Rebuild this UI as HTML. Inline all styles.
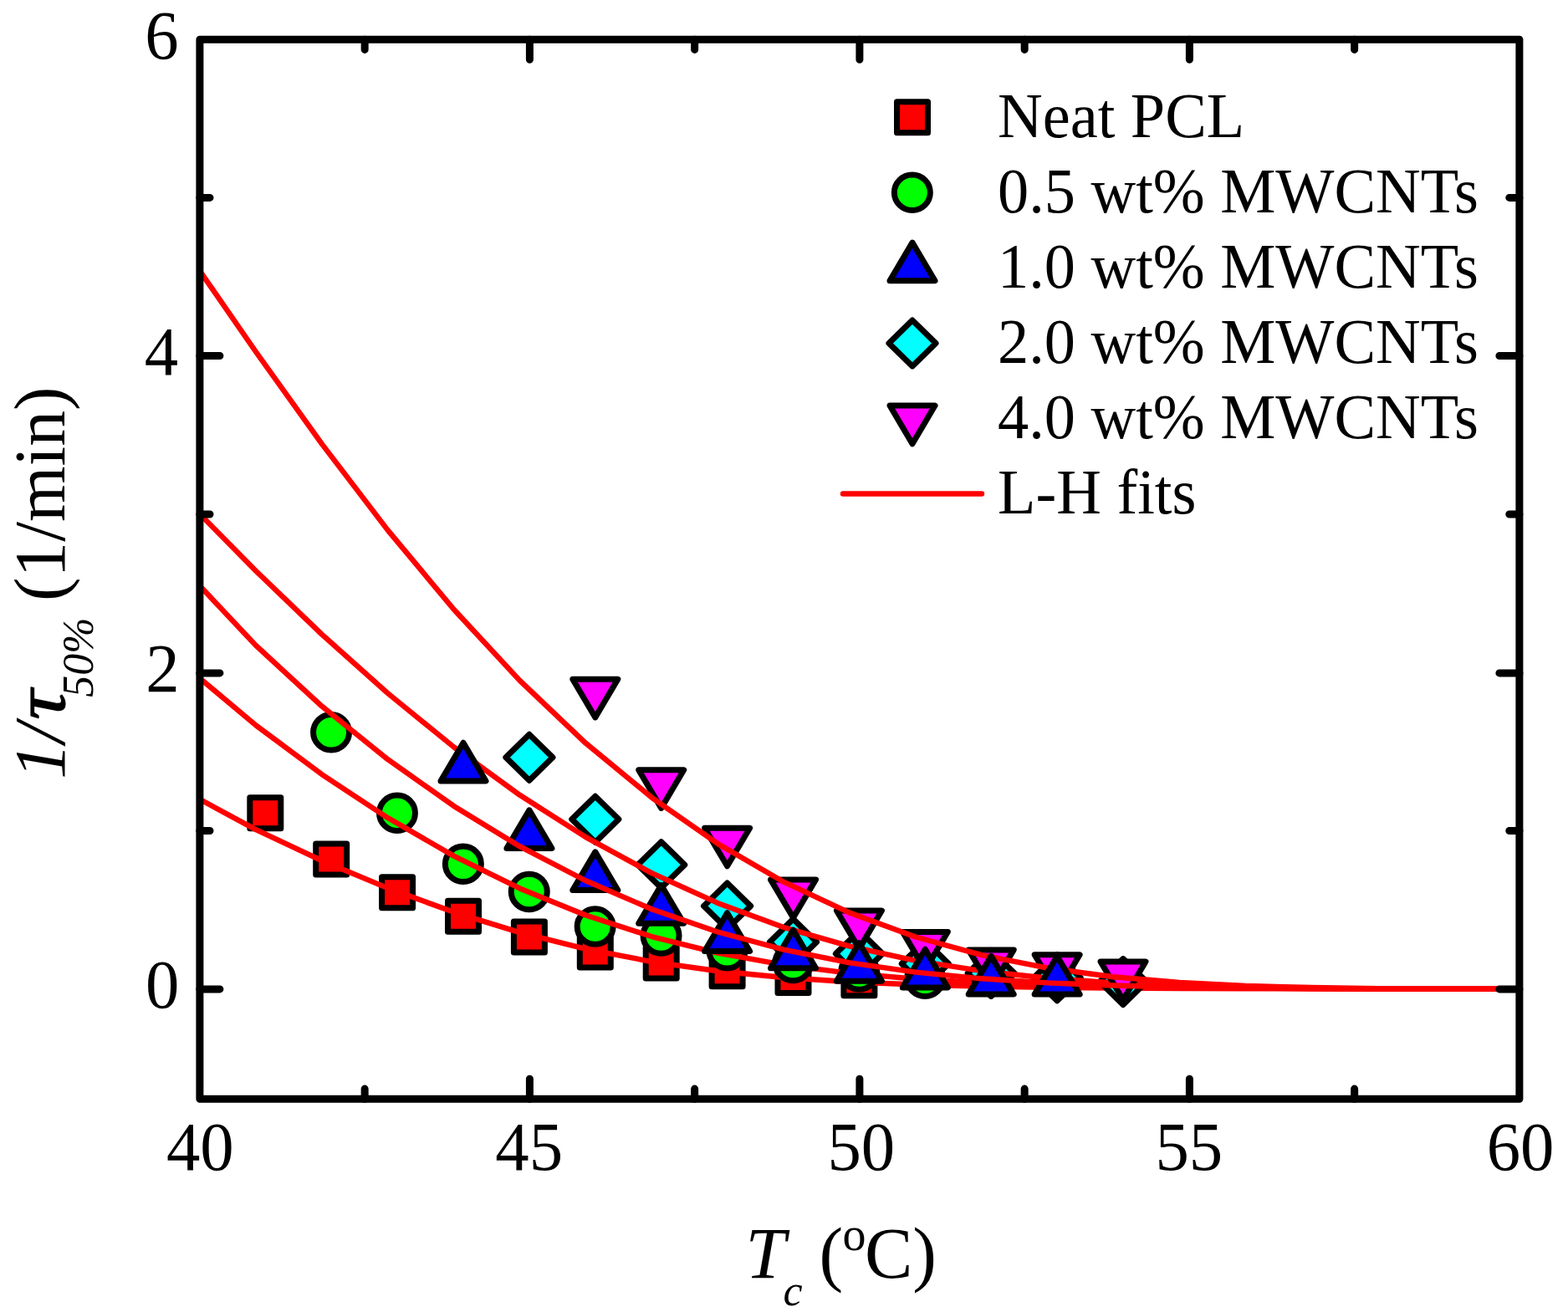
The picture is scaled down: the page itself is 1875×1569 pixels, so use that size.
<!DOCTYPE html>
<html lang="en">
<head>
<meta charset="utf-8">
<title>1/τ50% vs Tc — L-H fits</title>
<style>
html,body{margin:0;padding:0;background:#fff;}
body{width:1875px;height:1569px;overflow:hidden;}
svg{display:block;}
text{font-family:'Liberation Serif', 'Times New Roman', Times, serif;fill:#000;}
</style>
</head>
<body>
<svg width="1875" height="1569" viewBox="0 0 1875 1569">
<rect width="1875" height="1569" fill="#ffffff"/>
<defs><clipPath id="plot"><rect x="238.9" y="47.3" width="1578.0" height="1266.9"/></clipPath></defs>
<g clip-path="url(#plot)">
<g stroke="#000" stroke-width="7.0" stroke-linejoin="round">
<rect x="298.8" y="953.8" width="37" height="37" fill="#ff0000"/>
<rect x="377.7" y="1008.9" width="37" height="37" fill="#ff0000"/>
<rect x="456.6" y="1048.8" width="37" height="37" fill="#ff0000"/>
<rect x="535.5" y="1077.3" width="37" height="37" fill="#ff0000"/>
<rect x="614.4" y="1102" width="37" height="37" fill="#ff0000"/>
<rect x="693.3" y="1120.1" width="37" height="37" fill="#ff0000"/>
<rect x="772.2" y="1132.9" width="37" height="37" fill="#ff0000"/>
<rect x="851.1" y="1142.7" width="37" height="37" fill="#ff0000"/>
<rect x="930" y="1150.4" width="37" height="37" fill="#ff0000"/>
<rect x="1008.9" y="1153.7" width="37" height="37" fill="#ff0000"/>
</g>
<polyline points="227.07,949.59 305.97,992.07 384.87,1029.23 463.77,1062.13 542.67,1090.85 621.57,1115.16 700.47,1134.86 779.37,1150.06 858.27,1161.22 937.17,1169 1016.07,1174.2 1094.97,1177.53 1173.87,1179.59 1252.77,1180.84 1331.67,1181.59 1410.57,1182.02 1489.47,1182.28 1568.37,1182.42 1647.27,1182.48 1726.17,1182.48 1805.07,1182.41" fill="none" stroke="#ff0000" stroke-width="6.4" stroke-linejoin="round" stroke-linecap="butt"/>
<g stroke="#000" stroke-width="7.0" stroke-linejoin="round">
<ellipse cx="396.05" cy="875.7" rx="21.5" ry="21.25" fill="#00ff00"/>
<ellipse cx="474.95" cy="972.3" rx="21.5" ry="21.25" fill="#00ff00"/>
<ellipse cx="553.85" cy="1033.2" rx="21.5" ry="21.25" fill="#00ff00"/>
<ellipse cx="632.75" cy="1066.4" rx="21.5" ry="21.25" fill="#00ff00"/>
<ellipse cx="711.65" cy="1108" rx="21.5" ry="21.25" fill="#00ff00"/>
<ellipse cx="790.55" cy="1119" rx="21.5" ry="21.25" fill="#00ff00"/>
<ellipse cx="869.45" cy="1136.8" rx="21.5" ry="21.25" fill="#00ff00"/>
<ellipse cx="948.35" cy="1151.4" rx="21.5" ry="21.25" fill="#00ff00"/>
<ellipse cx="1027.25" cy="1162" rx="21.5" ry="21.25" fill="#00ff00"/>
<ellipse cx="1106.15" cy="1170.2" rx="21.5" ry="21.25" fill="#00ff00"/>
</g>
<polyline points="227.07,801.19 305.97,867.4 384.87,926.05 463.77,978.08 542.67,1023.62 621.57,1062.48 700.47,1094.56 779.37,1120.06 858.27,1139.53 937.17,1153.81 1016.07,1163.88 1094.97,1170.73 1173.87,1175.23 1252.77,1178.11 1331.67,1179.92 1410.57,1181.03 1489.47,1181.7 1568.37,1182.11 1647.27,1182.36 1726.17,1182.5 1805.07,1182.59" fill="none" stroke="#ff0000" stroke-width="6.4" stroke-linejoin="round" stroke-linecap="butt"/>
<g stroke="#000" stroke-width="7.0" stroke-linejoin="round">
<polygon points="632.9,878.3 660.95,905.8 632.9,933.3 604.85,905.8" fill="#00ffff"/>
<polygon points="711.8,952.3 739.85,979.8 711.8,1007.3 683.75,979.8" fill="#00ffff"/>
<polygon points="790.7,1006.7 818.75,1034.2 790.7,1061.7 762.65,1034.2" fill="#00ffff"/>
<polygon points="869.6,1055.9 897.65,1083.4 869.6,1110.9 841.55,1083.4" fill="#00ffff"/>
<polygon points="948.5,1099 976.55,1126.5 948.5,1154 920.45,1126.5" fill="#00ffff"/>
<polygon points="1027.4,1113.1 1055.45,1140.6 1027.4,1168.1 999.35,1140.6" fill="#00ffff"/>
<polygon points="1106.3,1124.9 1134.35,1152.4 1106.3,1179.9 1078.25,1152.4" fill="#00ffff"/>
<polygon points="1185.2,1136.4 1213.25,1163.9 1185.2,1191.4 1157.15,1163.9" fill="#00ffff"/>
<polygon points="1264.1,1141.8 1292.15,1169.3 1264.1,1196.8 1236.05,1169.3" fill="#00ffff"/>
<polygon points="1343,1146.6 1371.05,1174.1 1343,1201.6 1314.95,1174.1" fill="#00ffff"/>
</g>
<polyline points="227.07,602.7 305.97,682.77 384.87,758.63 463.77,829.11 542.67,893.37 621.57,950.82 700.47,1001.11 779.37,1044.12 858.27,1079.96 937.17,1108.97 1016.07,1131.68 1094.97,1148.81 1173.87,1161.2 1252.77,1169.76 1331.67,1175.37 1410.57,1178.83 1489.47,1180.85 1568.37,1181.94 1647.27,1182.48 1726.17,1182.73 1805.07,1182.84" fill="none" stroke="#ff0000" stroke-width="6.4" stroke-linejoin="round" stroke-linecap="butt"/>
<g stroke="#000" stroke-width="7.0" stroke-linejoin="round">
<polygon points="711.8,857.93 738.8,812.28 684.8,812.28" fill="#ff00ff"/>
<polygon points="790.7,966.43 817.7,920.78 763.7,920.78" fill="#ff00ff"/>
<polygon points="869.6,1035.83 896.6,990.18 842.6,990.18" fill="#ff00ff"/>
<polygon points="948.5,1097.53 975.5,1051.88 921.5,1051.88" fill="#ff00ff"/>
<polygon points="1027.4,1134.63 1054.4,1088.98 1000.4,1088.98" fill="#ff00ff"/>
<polygon points="1106.3,1160.03 1133.3,1114.38 1079.3,1114.38" fill="#ff00ff"/>
<polygon points="1185.2,1181.53 1212.2,1135.88 1158.2,1135.88" fill="#ff00ff"/>
<polygon points="1264.1,1187.33 1291.1,1141.68 1237.1,1141.68" fill="#ff00ff"/>
<polygon points="1343,1195.73 1370,1150.08 1316,1150.08" fill="#ff00ff"/>
</g>
<polyline points="227.07,306.8 305.97,420.72 384.87,530.84 463.77,634.14 542.67,728.79 621.57,813.81 700.47,888.81 779.37,953.77 858.27,1008.93 937.17,1054.69 1016.07,1091.63 1094.97,1120.48 1173.87,1142.15 1252.77,1157.68 1331.67,1168.22 1410.57,1174.92 1489.47,1178.9 1568.37,1181.06 1647.27,1182.13 1726.17,1182.61 1805.07,1182.81" fill="none" stroke="#ff0000" stroke-width="6.4" stroke-linejoin="round" stroke-linecap="butt"/>
<g stroke="#000" stroke-width="7.0" stroke-linejoin="round">
<polygon points="554,888.27 581,933.92 527,933.92" fill="#0000ff"/>
<polygon points="632.9,968.87 659.9,1014.52 605.9,1014.52" fill="#0000ff"/>
<polygon points="711.8,1018.87 738.8,1064.52 684.8,1064.52" fill="#0000ff"/>
<polygon points="790.7,1058.57 817.7,1104.22 763.7,1104.22" fill="#0000ff"/>
<polygon points="869.6,1091.77 896.6,1137.42 842.6,1137.42" fill="#0000ff"/>
<polygon points="948.5,1112.07 975.5,1157.72 921.5,1157.72" fill="#0000ff"/>
<polygon points="1027.4,1127.67 1054.4,1173.32 1000.4,1173.32" fill="#0000ff"/>
<polygon points="1106.3,1135.27 1133.3,1180.92 1079.3,1180.92" fill="#0000ff"/>
<polygon points="1185.2,1143.37 1212.2,1189.02 1158.2,1189.02" fill="#0000ff"/>
<polygon points="1264.1,1143.47 1291.1,1189.12 1237.1,1189.12" fill="#0000ff"/>
</g>
<polyline points="227.07,688 305.97,771.91 384.87,844.58 463.77,908.21 542.67,963.93 621.57,1012.21 700.47,1053.25 779.37,1087.24 858.27,1114.51 937.17,1135.63 1016.07,1151.35 1094.97,1162.6 1173.87,1170.31 1252.77,1175.38 1331.67,1178.57 1410.57,1180.49 1489.47,1181.61 1568.37,1182.23 1647.27,1182.56 1726.17,1182.73 1805.07,1182.82" fill="none" stroke="#ff0000" stroke-width="6.4" stroke-linejoin="round" stroke-linecap="butt"/>
</g>
<g stroke="#000" stroke-width="9.0" stroke-linecap="round" stroke-linejoin="round" fill="none">
<rect x="238.9" y="47.3" width="1578" height="1266.9"/>
<path d="M436.15 1314.2V1302.1M436.15 47.3V59.4"/>
<path d="M633.4 1314.2V1290.2M633.4 47.3V71.3"/>
<path d="M830.65 1314.2V1302.1M830.65 47.3V59.4"/>
<path d="M1027.9 1314.2V1290.2M1027.9 47.3V71.3"/>
<path d="M1225.15 1314.2V1302.1M1225.15 47.3V59.4"/>
<path d="M1422.4 1314.2V1290.2M1422.4 47.3V71.3"/>
<path d="M1619.65 1314.2V1302.1M1619.65 47.3V59.4"/>
<path d="M238.9 1182.9H262.9M1816.9 1182.9H1792.9"/>
<path d="M238.9 993.5H251M1816.9 993.5H1804.8"/>
<path d="M238.9 804.9H262.9M1816.9 804.9H1792.9"/>
<path d="M238.9 615H251M1816.9 615H1804.8"/>
<path d="M238.9 425.5H262.9M1816.9 425.5H1792.9"/>
<path d="M238.9 236.4H251M1816.9 236.4H1804.8"/>
</g>
<text transform="translate(239.3 1398.9) scale(0.968 1)" font-size="83.5" text-anchor="middle">40</text>
<text transform="translate(632.7 1398.9) scale(0.968 1)" font-size="83.5" text-anchor="middle">45</text>
<text transform="translate(1029.8 1398.9) scale(0.968 1)" font-size="83.5" text-anchor="middle">50</text>
<text transform="translate(1421.8 1398.9) scale(0.968 1)" font-size="83.5" text-anchor="middle">55</text>
<text transform="translate(1818.1 1398.9) scale(0.968 1)" font-size="83.5" text-anchor="middle">60</text>
<text transform="translate(214.4 1205.4) scale(0.968 1)" font-size="83.5" text-anchor="end">0</text>
<text transform="translate(214.7 827.4) scale(0.968 1)" font-size="83.5" text-anchor="end">2</text>
<text transform="translate(213.2 448) scale(0.968 1)" font-size="83.5" text-anchor="end">4</text>
<text transform="translate(213.6 69.8) scale(0.968 1)" font-size="83.5" text-anchor="end">6</text>
<text transform="translate(891.5 1527.5)" font-size="86" font-style="italic">T</text>
<text transform="translate(936.6 1560.8)" font-size="52" font-style="italic">c</text>
<text transform="translate(979.5 1527.5)" font-size="86">(</text>
<text transform="translate(1007.4 1494.8)" font-size="56">o</text>
<text transform="translate(1034 1527.5)" font-size="86">C)</text>
<g transform="translate(77.3 932) rotate(-90)">
<text transform="translate(0.3 0)" font-size="86" font-style="italic">1/</text>
<text transform="translate(71.2 0) scale(1.16 1)" font-size="86" font-style="italic" stroke="#000" stroke-width="1.2" stroke-linejoin="round">τ</text>
<text transform="translate(98.3 33.4)" font-size="52" font-style="italic">50%</text>
<text transform="translate(213.1 0) scale(0.994 1)" font-size="86">(1/min)</text>
</g>
<g stroke="#000" stroke-width="7.0" stroke-linejoin="round">
<rect x="1072.5" y="121.7" width="37" height="37" fill="#ff0000"/>
<ellipse cx="1090.85" cy="230.3" rx="21.5" ry="21.25" fill="#00ff00"/>
<polygon points="1091,290.07 1118,335.72 1064,335.72" fill="#0000ff"/>
<polygon points="1091,382.9 1119.05,410.4 1091,437.9 1062.95,410.4" fill="#00ffff"/>
<polygon points="1091,530.73 1118,485.08 1064,485.08" fill="#ff00ff"/>
</g>
<line x1="1008" y1="590.5" x2="1174" y2="590.5" stroke="#ff0000" stroke-width="6.4" stroke-linecap="round"/>
<text transform="translate(1193 164.3) scale(0.978 1)" font-size="76">Neat PCL</text>
<text transform="translate(1193 254.15) scale(0.978 1)" font-size="76">0.5 wt% MWCNTs</text>
<text transform="translate(1193 344) scale(0.978 1)" font-size="76">1.0 wt% MWCNTs</text>
<text transform="translate(1193 433.85) scale(0.978 1)" font-size="76">2.0 wt% MWCNTs</text>
<text transform="translate(1193 523.7) scale(0.978 1)" font-size="76">4.0 wt% MWCNTs</text>
<text transform="translate(1193 613.55) scale(0.978 1)" font-size="76">L-H fits</text>
</svg>
</body>
</html>
